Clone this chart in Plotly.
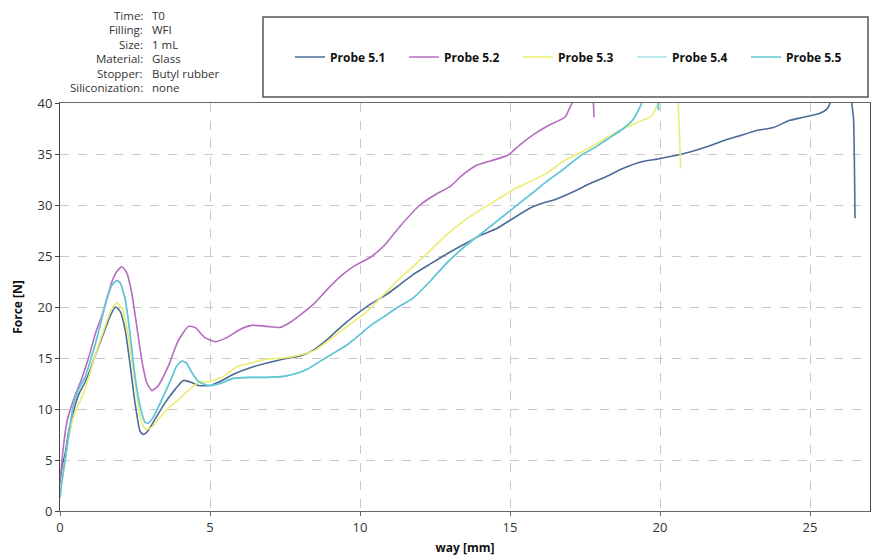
import plotly.graph_objects as go

# ---------------- data ----------------
probe_51_x = [0, 0.08, 0.17, 0.3, 0.5, 0.65, 0.83, 1.0, 1.17, 1.5, 1.7, 1.85, 2.0, 2.17, 2.33, 2.5, 2.67, 2.78, 2.94, 3.17, 3.5, 3.83, 4.11, 4.39, 4.61, 5.0, 5.33, 5.78, 6.34, 6.9, 7.46, 8.0, 8.46, 8.9, 9.35, 9.8, 10.36, 10.92, 11.33, 11.78, 12.33, 12.89, 13.44, 14.0, 14.56, 15.11, 15.67, 16.0, 16.56, 17.11, 17.67, 18.22, 18.78, 19.33, 19.89, 20.44, 21.0, 21.56, 22.11, 22.67, 23.22, 23.78, 24.33, 24.78, 25.33, 25.56, 25.67, 25.8, 26.3, 26.39, 26.45, 26.5]
probe_51_y = [3.0, 4.5, 5.6, 8.0, 10.3, 11.6, 12.6, 13.8, 15.2, 17.8, 19.3, 20.0, 19.6, 17.8, 14.5, 10.6, 7.8, 7.5, 7.9, 9.0, 10.6, 11.9, 12.8, 12.6, 12.3, 12.3, 12.7, 13.4, 14.05, 14.5, 14.9, 15.2, 15.8, 16.8, 18.0, 19.1, 20.3, 21.3, 22.2, 23.2, 24.2, 25.2, 26.1, 27.0, 27.7, 28.7, 29.7, 30.1, 30.6, 31.3, 32.1, 32.8, 33.6, 34.2, 34.5, 34.8, 35.2, 35.7, 36.3, 36.8, 37.3, 37.6, 38.3, 38.6, 39.0, 39.4, 40.0, 42.5, 42.5, 40.0, 38.5, 28.7]

probe_52_x = [0, 0.1, 0.25, 0.5, 0.7, 0.94, 1.2, 1.39, 1.72, 1.9, 2.06, 2.22, 2.39, 2.56, 2.72, 2.89, 3.06, 3.28, 3.61, 3.94, 4.28, 4.5, 4.83, 5.17, 5.56, 6.0, 6.4, 6.9, 7.34, 7.68, 8.0, 8.46, 8.9, 9.35, 9.8, 10.36, 10.8, 11.33, 12.0, 12.56, 13.0, 13.44, 13.89, 14.44, 14.94, 15.33, 15.78, 16.22, 16.83, 16.94, 17.09, 17.3, 17.7, 17.78, 17.8]
probe_52_y = [2.5, 6.0, 9.0, 11.3, 12.8, 14.9, 17.6, 19.1, 22.4, 23.5, 23.95, 23.4, 21.4, 18.1, 14.9, 12.6, 11.8, 12.3, 14.2, 16.7, 18.1, 18.0, 17.0, 16.6, 17.0, 17.8, 18.2, 18.1, 18.0, 18.5, 19.2, 20.3, 21.7, 23.0, 24.0, 24.9, 26.0, 27.9, 30.0, 31.1, 31.8, 33.0, 33.9, 34.4, 34.9, 35.9, 36.9, 37.7, 38.6, 39.2, 40.2, 43.0, 43.0, 40.0, 38.6]

probe_53_x = [0, 0.08, 0.17, 0.3, 0.5, 0.83, 1.17, 1.5, 1.72, 1.89, 2.06, 2.22, 2.39, 2.56, 2.72, 2.86, 3.06, 3.28, 3.61, 3.94, 4.28, 4.61, 5.0, 5.45, 5.9, 6.34, 6.9, 7.46, 8.0, 8.52, 8.9, 9.35, 9.8, 10.25, 10.58, 10.92, 11.22, 11.78, 12.33, 12.89, 13.44, 14.0, 14.56, 15.11, 15.67, 16.22, 16.78, 17.33, 17.67, 18.22, 18.78, 19.33, 19.72, 19.83, 19.94, 20.1, 20.55, 20.61, 20.69]
probe_53_y = [2.0, 3.3, 4.9, 7.3, 9.6, 11.9, 15.2, 18.1, 19.8, 20.4, 19.9, 18.1, 14.9, 11.3, 8.7, 8.0, 8.2, 9.0, 10.1, 10.9, 11.8, 12.6, 12.7, 13.2, 14.15, 14.5, 14.9, 15.0, 15.3, 15.8, 16.6, 17.6, 18.6, 19.6, 20.6, 21.6, 22.5, 24.0, 25.5, 27.1, 28.4, 29.5, 30.5, 31.5, 32.3, 33.1, 34.3, 35.1, 35.65, 36.6, 37.5, 38.2, 38.7, 39.3, 40.0, 43.0, 43.0, 40.0, 33.6]

probe_54_x = [0, 0.06, 0.22, 0.44, 0.61, 0.83, 1.06, 1.28, 1.5, 1.72, 1.89, 2.0, 2.17, 2.33, 2.5, 2.67, 2.83, 2.94, 3.11, 3.39, 3.67, 3.89, 4.06, 4.22, 4.39, 4.61, 4.83, 5.0, 5.33, 5.78, 6.34, 6.9, 7.46, 7.9, 8.24, 8.68, 9.13, 9.58, 10.0, 10.36, 10.8, 11.22, 11.78, 12.33, 12.89, 13.44, 14.0, 14.56, 15.11, 15.67, 16.22, 16.78, 17.33, 17.89, 18.22, 18.78, 19.11, 19.28, 19.39, 19.6, 19.9, 19.94, 19.95]
probe_54_y = [1.3, 2.8, 6.0, 10.3, 11.9, 13.1, 15.2, 17.5, 20.1, 22.1, 22.6, 22.4, 20.8, 17.5, 13.2, 10.3, 8.7, 8.6, 9.2, 10.9, 12.7, 14.2, 14.7, 14.5, 13.6, 12.7, 12.4, 12.3, 12.5, 13.0, 13.1, 13.1, 13.2, 13.5, 13.9, 14.7, 15.5, 16.3, 17.3, 18.2, 19.05, 19.9, 20.9, 22.5, 24.3, 25.8, 27.1, 28.4, 29.7, 31.0, 32.3, 33.5, 34.8, 35.75, 36.4, 37.5, 38.4, 39.3, 40.0, 43.0, 43.0, 40.0, 39.3]

probe_55_x = [0, 0.06, 0.22, 0.44, 0.61, 0.83, 1.06, 1.28, 1.5, 1.72, 1.89, 2.0, 2.17, 2.33, 2.5, 2.67, 2.83, 2.94, 3.11, 3.39, 3.67, 3.89, 4.06, 4.22, 4.39, 4.61, 4.83, 5.0, 5.33, 5.78, 6.34, 6.9, 7.46, 7.9, 8.24, 8.68, 9.13, 9.58, 10.0, 10.36, 10.8, 11.22, 11.78, 12.33, 12.89, 13.44, 14.0, 14.56, 15.11, 15.67, 16.22, 16.78, 17.33, 17.89, 18.22, 18.78, 19.11, 19.28, 19.39, 19.6, 19.9, 19.94, 19.95]
probe_55_y = [1.3, 2.8, 6.0, 10.3, 11.9, 13.1, 15.2, 17.5, 20.1, 22.1, 22.6, 22.4, 20.8, 17.5, 13.2, 10.3, 8.7, 8.6, 9.2, 10.9, 12.7, 14.2, 14.7, 14.5, 13.6, 12.7, 12.4, 12.3, 12.5, 13.0, 13.1, 13.1, 13.2, 13.5, 13.9, 14.7, 15.5, 16.3, 17.3, 18.2, 19.05, 19.9, 20.9, 22.5, 24.3, 25.8, 27.1, 28.4, 29.7, 31.0, 32.3, 33.5, 34.8, 35.75, 36.4, 37.5, 38.4, 39.3, 40.0, 43.0, 43.0, 40.0, 39.3]

series_names = ["Probe 5.1", "Probe 5.2", "Probe 5.3", "Probe 5.4", "Probe 5.5"]
info_labels = ["Time:", "Filling:", "Size:", "Material:", "Stopper:", "Siliconization:"]
info_values = ["T0", "WFI", "1 mL", "Glass", "Butyl rubber", "none"]
x_ticks = [0, 5, 10, 15, 20, 25]
y_ticks = [0, 5, 10, 15, 20, 25, 30, 35, 40]

# ---------------- styling ----------------
colors = ["#4d6b98", "#b46cbf", "#ecec72", "#a6e2ea", "#62c5d5"]
FONT = "Open Sans"

fig = go.Figure()
series = [(probe_51_x, probe_51_y), (probe_52_x, probe_52_y), (probe_53_x, probe_53_y),
          (probe_54_x, probe_54_y), (probe_55_x, probe_55_y)]
for (xs, ys), name, c in zip(series, series_names, colors):
    fig.add_trace(go.Scatter(x=xs, y=ys, mode="lines", name=name,
                             line=dict(color=c, width=1.6, shape="spline", smoothing=0.5)))

W, H = 873, 559
L, R, T, B = 60, 3, 103, 48
pw, ph = W - L - R, H - T - B

def px_x(p):
    return (p - L) / pw

def px_y(p):
    return (H - B - p) / ph

# info block
line_y = [15, 29.6, 44.2, 58.8, 73.4, 88]
for lab, val, yy in zip(info_labels, info_values, line_y):
    fig.add_annotation(x=px_x(145), y=px_y(yy), xref="paper", yref="paper",
                       text=lab, showarrow=False, xanchor="right", yanchor="middle",
                       font=dict(family=FONT, size=11.5, color="#333"))
    fig.add_annotation(x=px_x(150), y=px_y(yy), xref="paper", yref="paper",
                       text=val, showarrow=False, xanchor="left", yanchor="middle",
                       font=dict(family=FONT, size=11.5, color="#333"))

# legend box
fig.add_shape(type="rect", xref="paper", yref="paper",
              x0=px_x(263), x1=px_x(868), y0=px_y(97), y1=px_y(17),
              line=dict(color="#555", width=1.5), fillcolor="rgba(0,0,0,0)")

fig.update_layout(
    width=W, height=H, autosize=False,
    margin=dict(l=L, r=R, t=T, b=B, autoexpand=False),
    paper_bgcolor="white", plot_bgcolor="white",
    font=dict(family=FONT, color="#333"),
    showlegend=True,
    legend=dict(orientation="h", x=px_x(290), y=px_y(57), xanchor="left", yanchor="middle",
                entrywidth=69, entrywidthmode="pixels",
                font=dict(family=FONT, size=12, color="#111", weight="bold"),
                bgcolor="rgba(0,0,0,0)", borderwidth=0),
    xaxis=dict(range=[0, 27], tickvals=x_ticks, showgrid=True, gridcolor="#c8c8c8",
               griddash="dash", gridwidth=1, zeroline=False,
               showline=True, linecolor="#666", linewidth=1, mirror=True,
               ticks="outside", ticklen=4, tickcolor="#666",
               tickfont=dict(family=FONT, size=13, color="#333"),
               title=dict(text="way [mm]", standoff=9,
                          font=dict(family=FONT, size=12, color="#111", weight="bold"))),
    yaxis=dict(range=[0, 40], tickvals=y_ticks, showgrid=True, gridcolor="#c8c8c8",
               griddash="dash", gridwidth=1, zeroline=False,
               showline=True, linecolor="#444", linewidth=1, mirror=True,
               ticks="outside", ticklen=4, tickcolor="#444",
               tickfont=dict(family=FONT, size=13, color="#333"),
               title=dict(text="Force [N]", standoff=12,
                          font=dict(family=FONT, size=12, color="#111", weight="bold"))),
)

fig.write_html("out.html",
               config={"displayModeBar": False},
               post_script="document.body.style.margin='0';document.body.style.overflow='hidden';")
